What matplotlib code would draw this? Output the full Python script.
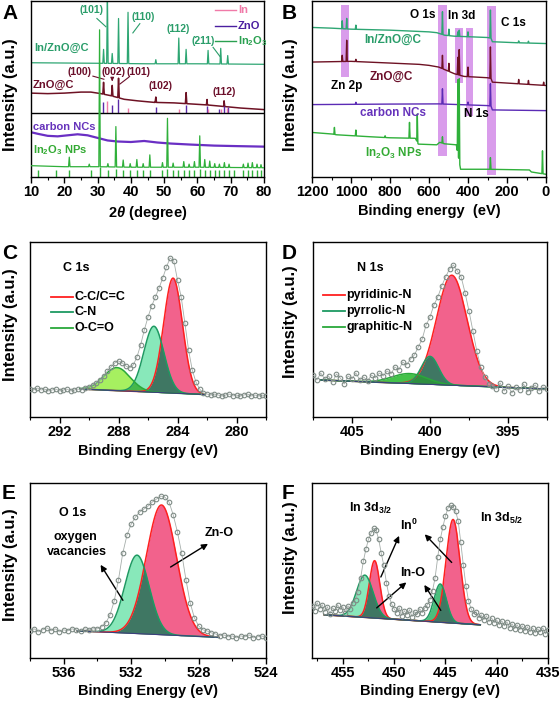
import numpy as np
import matplotlib
matplotlib.use("Agg")
import matplotlib.pyplot as plt
from matplotlib.ticker import MultipleLocator

plt.rcParams.update({
    "font.family": "Liberation Sans",
    "font.weight": "bold",
    "axes.labelweight": "bold",
    "mathtext.fontset": "custom",
    "mathtext.rm": "Liberation Sans:bold",
    "mathtext.it": "Liberation Sans:italic:bold",
    "mathtext.bf": "Liberation Sans:bold",
})

# ---------------------------------------------------------
# A: XRD (2theta in degree, intensity in arbitrary offset units)
# ---------------------------------------------------------
inzno_bg_x = [10, 30, 45, 60, 80]
inzno_bg_y = [112, 111.5, 111, 111, 110.5]
inzno_pk_x = [31.8, 32.95, 34.4, 36.3, 39.15, 47.5, 54.4, 56.6, 63.2, 67.0, 69.1]
inzno_pk_y = [125, 180, 121, 155, 161, 115, 136, 125, 124, 126, 119]

zno_bg_x = [10, 15, 20, 25, 28, 31, 34, 38, 42, 47, 53, 58, 63, 68, 73, 80]
zno_bg_y = [82.5, 82, 82.5, 83.5, 83.5, 82, 80, 76.5, 75, 73.5, 73, 72, 71, 69.5, 68, 66.5]
zno_pk_x = [31.8, 34.4, 36.3, 47.5, 56.6, 62.9, 68.0]
zno_pk_y = [93, 90, 97, 78.7, 83, 76.3, 75]

ref_zno_x = [31.77, 34.42, 36.25, 47.54, 56.6, 62.86, 66.38, 67.96, 69.1]
ref_zno_top = [74, 71.3, 76.3, 69, 71.3, 69.7, 67, 69.7, 69]
ref_in_x = [32.95, 39.15, 54.4, 63.2, 67.0, 69.0]
ref_in_top = [74.7, 68, 67, 67, 67, 68]
separator_y = 63

carbon_x = [10, 12, 15, 18, 21, 24, 27, 30, 33, 36, 40, 44, 48, 52, 58, 65, 72, 80]
carbon_y = [44.5, 43, 41, 40.5, 41.5, 42.5, 41.5, 39, 36.5, 35.5, 35, 36, 34.5, 33.5,
            32.5, 31.5, 31, 30.5]

in2o3_bg_x = [10, 20, 30, 40, 60, 80]
in2o3_bg_y = [12, 11, 11, 10.5, 10.5, 10]
in2o3_pk_x = [21.5, 27.5, 30.6, 33.1, 35.5, 37.7, 39.8, 41.8, 43.7, 45.7, 49.5, 51.0, 52.7,
              55.9, 57.5, 59.1, 60.7, 62.2, 63.7, 65.2, 66.6, 68.1, 69.5, 73.8, 75.2, 76.5,
              77.9, 79.1]
in2o3_pk_y = [20.3, 13.5, 144, 14, 50, 17.5, 14, 18, 14, 22.5, 15, 58, 14.5, 16, 13.5, 16,
              41, 18, 16.5, 14, 13.5, 15, 13.5, 13.5, 14.5, 15, 13.5, 13]

ref_in2o3_x = [12.2, 17.5, 21.5, 27.9, 30.6, 33.1, 35.5, 37.7, 39.8, 41.8, 43.7, 45.7, 49.3,
               51.0, 52.7, 54.3, 56.0, 57.6, 59.1, 60.7, 62.2, 63.7, 65.2, 66.6, 68.1, 69.5,
               70.9, 73.7, 75.1, 76.4, 77.8, 79.1]
ref_in2o3_top = [8, 8, 8, 8, 11, 8, 9, 8, 8, 8, 8, 8, 8, 9, 8, 8, 8, 8, 8, 9, 8, 8, 8, 8,
                 8, 8, 8, 8, 8, 8, 8, 8]

# ---------------------------------------------------------
# B: XPS survey (binding energy eV)
# ---------------------------------------------------------
s_inzno_bg_x = [1200, 1100, 1000, 800, 600, 560, 520, 470, 400, 300, 282, 275, 150, 0]
s_inzno_bg_y = [148.7, 148, 147, 146, 144.3, 143.5, 141, 140, 139.5, 138.7, 138, 134.5,
                133.5, 132.7]
s_inzno_pk_x = [1045, 1022, 975, 531, 498, 452, 445, 400, 285, 140, 90]
s_inzno_pk_y = [155.3, 157.7, 151, 164.3, 147, 144.3, 146, 144.3, 166, 135.3, 135]

s_zno_bg_x = [1200, 1000, 800, 650, 600, 550, 510, 470, 420, 300, 282, 275, 0]
s_zno_bg_y = [114.3, 115, 113.3, 112, 111, 109.3, 106, 102.7, 100, 98.7, 98, 94.3, 91]
s_zno_pk_x = [1045, 1022, 975, 531, 498, 452, 445, 400, 285, 140, 90, 12]
s_zno_pk_y = [121, 136, 117, 121, 113, 119, 126.7, 109.3, 129.3, 97, 96, 94.3]

s_c_bg_x = [1200, 800, 550, 300, 282, 275, 0]
s_c_bg_y = [72, 72.5, 72.7, 71, 70.5, 66.7, 66]
s_c_pk_x = [975, 531, 400, 285]
s_c_pk_y = [74.3, 87.7, 74.5, 92.7]

s_in2o3_bg_x = [1200, 1095, 1075, 900, 800, 670, 655, 560, 545, 520, 460, 438, 300, 85, 75, 0]
s_in2o3_bg_y = [44.3, 42.7, 42, 40, 39, 38.5, 32.7, 32, 34.5, 33, 32, 7.7, 7.7, 7, 5, 2.7]
s_in2o3_pk_x = [1085, 975, 825, 700, 660, 531, 452, 445, 285, 18]
s_in2o3_pk_y = [49.3, 46.7, 41, 54.3, 62.7, 40, 96.7, 97.7, 19.3, 26]

band_hi = [1051, 554, 467, 410, 302]
band_lo = [1010, 508, 426, 374, 256]
band_bottom = [99, 21, 93, 61, 2]
band_top = [171, 171, 148, 148, 170]

# ---------------------------------------------------------
# C-F: high resolution XPS, measured points on a 0.25 eV grid
# ---------------------------------------------------------
c1s_range = (294, 278)
c1s_data = [28, 27, 29, 27, 28, 26, 27, 28, 26, 27, 28, 26, 27, 28, 27, 29, 30, 32, 34, 37,
            41, 46, 50, 54, 56, 54, 51, 49, 52, 60, 72, 87, 100, 111, 120, 129, 139, 150, 159,
            156, 137, 120, 94, 67, 47, 35, 28, 24, 23, 22, 23, 22, 21, 22, 23, 21, 22, 21, 22,
            23, 21, 22, 21, 22, 21]
c1s_names = ["C-C/C=C", "C-N", "O-C=O"]
c1s_center = [284.3, 285.6, 288.1]
c1s_height = [115, 66, 23]
c1s_fwhm = [1.5, 1.6, 2.1]
c1s_base_e = [290.6, 282.2]
c1s_base_h = [28, 22.5]

n1s_range = (407.5, 392.5)
n1s_data = [42, 37, 44, 38, 41, 35, 43, 39, 33, 41, 38, 44, 37, 40, 36, 42, 39, 44, 41, 46,
            43, 50, 47, 55, 52, 58, 62, 70, 78, 92, 100, 112, 120, 131, 140, 148, 152, 146,
            140, 124, 106, 86, 66, 50, 40, 33, 31, 28, 34, 26, 31, 24, 30, 27, 33, 25, 29, 32,
            26, 30, 28]
n1s_names = ["pyridinic-N", "pyrrolic-N", "graphitic-N"]
n1s_center = [398.6, 400.0, 401.3]
n1s_height = [110, 28, 10]
n1s_fwhm = [2.3, 1.3, 2.6]
n1s_base_e = [407.0, 392.6]
n1s_base_h = [37, 28]

o1s_range = (538, 524)
o1s_data = [27, 29, 26, 28, 30, 27, 29, 26, 28, 27, 29, 28, 27, 29, 28, 29, 29, 31, 35, 43,
            57, 78, 104, 122, 133, 140, 145, 148, 151, 155, 158, 161, 160, 155, 142, 125, 104,
            78, 55, 40, 32, 28, 27, 25, 24, 22, 23, 21, 22, 20, 22, 21, 23, 20, 21, 22, 20]
o1s_center = [530.2, 531.65]
o1s_height = [129, 78]
o1s_fwhm = [2.1, 1.7]
o1s_base_e = [535.2, 526.8]
o1s_base_h = [27, 20.5]

in3d_range = (458, 435)
in3d_data = [52, 47, 55, 49, 53, 46, 51, 44, 50, 47, 53, 48, 51, 45, 52, 49, 55, 58, 66, 80,
             96, 108, 118, 124, 129, 127, 118, 104, 92, 75, 62, 54, 49, 45, 50, 42, 47, 43,
             48, 41, 46, 44, 49, 45, 50, 53, 58, 67, 80, 100, 118, 130, 141, 149, 152, 150,
             146, 136, 115, 92, 72, 57, 49, 44, 46, 40, 43, 38, 42, 36, 40, 35, 38, 33, 37,
             32, 36, 30, 34, 29, 33, 28, 32, 27, 31, 26, 30, 25, 29, 26, 30, 24, 28]
in3d_center = [451.9, 452.85, 444.25, 445.5]
in3d_height = [57, 42, 103, 38]
in3d_fwhm = [1.2, 1.9, 1.6, 1.4]
in3d_base_e = [456.8, 441.6]
in3d_base_h = [43, 33]

PINK = "#f2628c"
MINT = "#88e8ba"
DARK = "#3f7763"
LIME = "#a6f060"
RED = "#ff2020"
TEAL = "#1e9a62"
GREEN = "#2aa83a"


# ---------------------------------------------------------
# Funciones
# ---------------------------------------------------------
W, H = 560, 703
fig = plt.figure(figsize=(W / 100, H / 100), dpi=100)


def px_axes(l, t, r, b):
    return fig.add_axes([l / W, 1 - b / H, (r - l) / W, (b - t) / H])


def style(ax, xlim, ylim, major, minor):
    ax.set_xlim(*xlim)
    ax.set_ylim(*ylim)
    ax.set_yticks([])
    ax.xaxis.set_major_locator(MultipleLocator(major))
    ax.xaxis.set_minor_locator(MultipleLocator(minor))
    ax.tick_params(axis="x", which="major", direction="out", length=4, width=1,
                   labelsize=10.5, pad=2)
    ax.tick_params(axis="x", which="minor", direction="out", length=2.5, width=0.8)
    for s in ax.spines.values():
        s.set_linewidth(1.0)


def spiky(bg_x, bg_y, pk_x, pk_y, w):
    bx = np.asarray(bg_x, float)
    by = np.asarray(bg_y, float)
    o = np.argsort(bx)
    bx, by = bx[o], by[o]
    xs, ys = list(bx), list(by)
    for p, t in zip(pk_x, pk_y):
        for d in (-w, w):
            xs.append(p + d)
            ys.append(np.interp(p + d, bx, by))
        xs.append(p)
        ys.append(t)
    o = np.argsort(xs, kind="stable")
    return np.array(xs)[o], np.array(ys)[o]


def gauss(x, c, h, w):
    return h * np.exp(-4 * np.log(2) * ((x - c) / w) ** 2)


def xps(ax, rng, data, centers, heights, fwhms, base_e, base_h, fills, edges, overlaps):
    e = np.linspace(rng[0], rng[1], len(data))
    x = np.linspace(base_e[1], base_e[0], 400)
    base = np.interp(x, [base_e[1], base_e[0]], [base_h[1], base_h[0]])
    comps = [gauss(x, c, h, w) for c, h, w in zip(centers, heights, fwhms)]
    for g, fc in zip(comps, fills):
        ax.fill_between(x, base, base + g, color=fc, lw=0, zorder=1)
    for i, j, col in overlaps:
        ax.fill_between(x, base, base + np.minimum(comps[i], comps[j]), color=col, lw=0,
                        zorder=2)
    for g, ec in zip(comps, edges):
        ax.plot(x, base + g, color=ec, lw=1.1, zorder=3)
    ax.plot(x, base, color="#3b3f7c", lw=0.8, zorder=3)
    ax.plot(e, data, color="#a6aeaa", lw=0.6, zorder=4)
    ax.plot(e, data, "o", ms=3.3, mfc="none", mec="#7f8c86", mew=0.8, zorder=5)


def ylabel(x, y):
    fig.text(x / W, 1 - y / H, "Intensity (a.u.)", rotation=90, ha="center", va="center",
             fontsize=12)


def letter(x, y, s):
    fig.text(x / W, 1 - y / H, s, ha="left", va="top", fontsize=15)


# ---------------------------------------------------------
# Panel A
# ---------------------------------------------------------
axA = px_axes(31, 1, 264, 177)
x, y = spiky(inzno_bg_x, inzno_bg_y, inzno_pk_x, inzno_pk_y, 0.22)
axA.plot(x, y, color="#2ea673", lw=0.9)
x, y = spiky(zno_bg_x, zno_bg_y, zno_pk_x, zno_pk_y, 0.22)
axA.plot(x, y, color="#6e1224", lw=1.1)
axA.vlines(ref_zno_x, separator_y, ref_zno_top, color="#5a2aa8", lw=1)
axA.vlines(ref_in_x, separator_y, ref_in_top, color="#f07aa8", lw=1)
axA.axhline(separator_y, color="black", lw=1)
axA.plot(carbon_x, carbon_y, color="#6a2fc4", lw=1.6)
x, y = spiky(in2o3_bg_x, in2o3_bg_y, in2o3_pk_x, in2o3_pk_y, 0.22)
axA.plot(x, y, color="#2fb03a", lw=0.9, zorder=5)
axA.vlines(ref_in2o3_x, 1, ref_in2o3_top, color="#2fb03a", lw=1)
style(axA, (10, 80), (1, 172), 10, 5)
axA.set_xlabel(r"2$\theta$ (degree)", fontsize=10.5, labelpad=3)

tc = "#2a9d6a"
mc = "#6b0f2a"
kw = dict(fontsize=7.5, ha="center", va="center")
axA.text(28.3, 163, "(101)", color=tc, **kw)
axA.plot([29.8, 32.5], [155, 147], color=tc, lw=0.8)
axA.text(43.6, 156, "(110)", color=tc, **kw)
axA.plot([42.7, 40.6], [150, 141], color=tc, lw=0.8)
axA.text(54.1, 145, "(112)", color=tc, **kw)
axA.text(61.7, 133, "(211)", color=tc, **kw)
axA.plot([64.7, 66.8], [127, 118], color=tc, lw=0.8)
axA.text(10.9, 126, "In/ZnO@C", color=tc, fontsize=8, va="center")
axA.text(24.7, 103, "(100)", color=mc, **kw)
axA.plot([28.6, 31.9], [99, 96], color=mc, lw=0.8)
axA.text(34.8, 103, "(002)", color=mc, **kw)
axA.annotate("", xy=(34.4, 94), xytext=(34.4, 99),
             arrowprops=dict(arrowstyle="-|>", color=mc, lw=0.8, mutation_scale=5))
axA.text(42.4, 103, "(101)", color=mc, **kw)
axA.plot([39.4, 36.7], [98, 91.3], color=mc, lw=0.8)
axA.text(49, 89, "(102)", color=mc, **kw)
axA.text(68, 84, "(112)", color=mc, **kw)
axA.text(10.6, 90, "ZnO@C", color=mc, fontsize=8, va="center")
axA.text(10.6, 50, "carbon NCs", color="#6633bb", fontsize=8, va="center")
axA.text(10.6, 27, r"In$_2$O$_3$ NPs", color="#33aa33", fontsize=8, va="center")
for yy, lab, col in [(163, "In", "#f07aa8"), (148, "ZnO", "#4b1fa0"),
                     (133, r"In$_2$O$_3$", "#2aa050")]:
    axA.plot([65.3, 71.6], [yy, yy], color=col, lw=1)
    axA.text(72.2, yy, lab, color=col, fontsize=8, va="center")

# ---------------------------------------------------------
# Panel B
# ---------------------------------------------------------
axB = px_axes(312, 1, 546, 177)
for hi, lo, b0, b1 in zip(band_hi, band_lo, band_bottom, band_top):
    axB.fill_between([lo, hi], b0, b1, color="#d99ceb", lw=0, zorder=0)
for bx, by, kx, ky, col in [
        (s_inzno_bg_x, s_inzno_bg_y, s_inzno_pk_x, s_inzno_pk_y, "#2ea673"),
        (s_zno_bg_x, s_zno_bg_y, s_zno_pk_x, s_zno_pk_y, "#6e1224"),
        (s_c_bg_x, s_c_bg_y, s_c_pk_x, s_c_pk_y, "#5b2bb5"),
        (s_in2o3_bg_x, s_in2o3_bg_y, s_in2o3_pk_x, s_in2o3_pk_y, "#2fb03a")]:
    x, y = spiky(bx, by, kx, ky, 3)
    axB.plot(x, y, color=col, lw=1.0)
style(axB, (1200, 0), (0, 175), 200, 100)
axB.set_xlabel("Binding energy  (eV)", fontsize=10.5, labelpad=3)
kb = dict(fontsize=8.5, ha="center", va="center")
axB.text(633, 161, "O 1s", **kb)
axB.text(433, 160, "In 3d", **kb)
axB.text(166, 153, "C 1s", **kb)
axB.text(1022, 90, "Zn 2p", **kb)
axB.text(355, 63, "N 1s", **kb)
axB.text(787, 136, "In/ZnO@C", color=tc, **kb)
axB.text(795, 100, "ZnO@C", color=mc, **kb)
axB.text(783, 64, "carbon NCs", color="#6633bb", **kb)
axB.text(779, 23, r"In$_2$O$_3$ NPs", color="#33aa33", **kb)

# ---------------------------------------------------------
# Panel C
# ---------------------------------------------------------
axC = px_axes(30, 242, 266, 417)
xps(axC, c1s_range, c1s_data, c1s_center, c1s_height, c1s_fwhm, c1s_base_e, c1s_base_h,
    [PINK, MINT, LIME], [RED, TEAL, GREEN], [(2, 1, "#45b84a"), (1, 0, DARK)])
style(axC, (294, 278), (0, 175), 4, 2)
axC.set_xlabel("Binding Energy (eV)", fontsize=10.5, labelpad=3)
axC.text(290.84, 149, "C 1s", fontsize=9, ha="center", va="center")
for yy, lab, col in zip([120, 105, 89], c1s_names, [RED, TEAL, GREEN]):
    axC.plot([292.55, 291.1], [yy, yy], color=col, lw=1.3)
    axC.text(291.0, yy, lab, fontsize=9, va="center")

# ---------------------------------------------------------
# Panel D
# ---------------------------------------------------------
axD = px_axes(313, 242, 547, 417)
xps(axD, n1s_range, n1s_data, n1s_center, n1s_height, n1s_fwhm, n1s_base_e, n1s_base_h,
    [PINK, MINT, "#44c24a"], [RED, TEAL, GREEN], [(1, 0, DARK), (2, 1, "#2f8f40")])
style(axD, (407.5, 392.5), (0, 175), 5, 2.5)
axD.set_xlabel("Binding Energy (eV)", fontsize=10.5, labelpad=3)
axD.text(403.85, 149, "N 1s", fontsize=9, ha="center", va="center")
for yy, lab, col in zip([122, 106, 90], n1s_names, [RED, TEAL, GREEN]):
    axD.plot([406.86, 405.45], [yy, yy], color=col, lw=1.3)
    axD.text(405.38, yy, lab, fontsize=9, va="center")

# ---------------------------------------------------------
# Panel E
# ---------------------------------------------------------
axE = px_axes(30, 483, 266, 658)
xps(axE, o1s_range, o1s_data, o1s_center, o1s_height, o1s_fwhm, o1s_base_e, o1s_base_h,
    [PINK, MINT], [RED, TEAL], [(0, 1, DARK)])
style(axE, (538, 524), (0, 174), 4, 2)
axE.set_xlabel("Binding Energy (eV)", fontsize=10.5, labelpad=3)
ke = dict(fontsize=9, ha="center", va="center")
axE.text(535.5, 144, "O 1s", **ke)
axE.text(535.3, 120, "oxygen", **ke)
axE.text(535.2, 105, "vacancies", **ke)
axE.text(526.8, 124, "Zn-O", **ke)
arrow = dict(arrowstyle="-|>", color="black", lw=1, mutation_scale=9)
axE.annotate("", xy=(533.9, 95), xytext=(532.4, 55), arrowprops=arrow)
axE.annotate("", xy=(527.3, 115), xytext=(529.8, 89), arrowprops=arrow)

# ---------------------------------------------------------
# Panel F
# ---------------------------------------------------------
axF = px_axes(312, 483, 548, 658)
xps(axF, in3d_range, in3d_data, in3d_center, in3d_height, in3d_fwhm, in3d_base_e, in3d_base_h,
    [PINK, MINT, PINK, "#4cbf7c"], [RED, TEAL, RED, TEAL], [(0, 1, DARK), (2, 3, DARK)])
style(axF, (458, 435), (0, 174), 5, 2.5)
axF.set_xlabel("Binding Energy (eV)", fontsize=10.5, labelpad=3)
axF.text(452.3, 149, r"In 3d$_{3/2}$", **ke)
axF.text(439.5, 139, r"In 3d$_{5/2}$", **ke)
axF.text(448.6, 132, r"In$^0$", **ke)
axF.text(448.2, 85, "In-O", **ke)
axF.annotate("", xy=(449.4, 124), xytext=(451.4, 78), arrowprops=arrow)
axF.annotate("", xy=(447.2, 125), xytext=(444.2, 93), arrowprops=arrow)
axF.annotate("", xy=(448.6, 77), xytext=(451.9, 48), arrowprops=arrow)
axF.annotate("", xy=(447.2, 75), xytext=(445.3, 45), arrowprops=arrow)

# ---------------------------------------------------------
# Textos de la figura
# ---------------------------------------------------------
for xx, yy in [(11, 95), (291, 95), (11, 325), (291, 322), (11, 565), (291, 558)]:
    ylabel(xx, yy)
for xx, yy, s in [(2, 4, "A"), (282, 4, "B"), (2, 244, "C"), (282, 244, "D"),
                  (2, 484, "E"), (282, 484, "F")]:
    letter(xx, yy, s)

fig.canvas.draw()
for ax in fig.axes:
    for t in ax.get_xticklabels(which="both"):
        t.set_fontweight("bold")

fig.savefig("out.png", dpi=100)
